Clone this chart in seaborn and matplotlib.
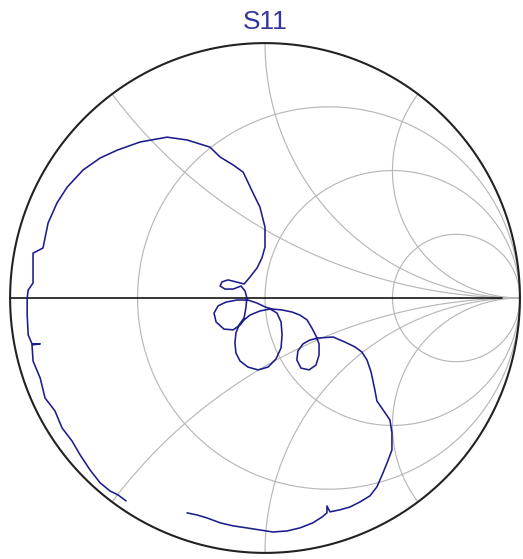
import numpy as np
import pandas as pd
import seaborn as sns
import matplotlib
matplotlib.use("Agg")
import matplotlib.pyplot as plt

sns.set_style("white")
plt.rcParams['font.family'] = ['Liberation Sans', 'DejaVu Sans']

s11_re = [-0.545, -0.576, -0.608, -0.647, -0.686, -0.725, -0.757, -0.796, -0.824, -0.863,
          -0.882, -0.910, -0.914, -0.882, -0.914, -0.929, -0.933, -0.933, -0.929, -0.910,
          -0.910, -0.871, -0.851, -0.816, -0.776, -0.714, -0.647, -0.580, -0.490, -0.384,
          -0.306, -0.216, -0.176, -0.125, -0.086, -0.071, -0.047, -0.020, 0.000, 0.000,
          -0.012, -0.031, -0.059, -0.082,
          -0.114, -0.145, -0.169, -0.176, -0.157, -0.125, -0.094, -0.078, -0.071,
          -0.075, -0.082,
          -0.102, -0.114, -0.118, -0.114, -0.098, -0.067, -0.027, 0.012, 0.043, 0.063,
          0.067, 0.063, 0.047, 0.020, -0.020, -0.059, -0.082,
          -0.098, -0.125, -0.161, -0.192, -0.200, -0.184, -0.153, -0.110, -0.067,
          -0.031, 0.000, 0.027, 0.067, 0.106, 0.137, 0.165, 0.184, 0.200,
          0.212, 0.212, 0.200, 0.173, 0.141, 0.125, 0.129, 0.149, 0.176, 0.208,
          0.267, 0.314, 0.353, 0.380, 0.400, 0.416, 0.431, 0.439, 0.463, 0.490,
          0.498, 0.498, 0.482, 0.463, 0.439, 0.412, 0.373, 0.333, 0.294, 0.255,
          0.243, 0.243, 0.224, 0.188, 0.137, 0.086, 0.031, -0.020, -0.071, -0.125,
          -0.176, -0.227, -0.267, -0.306]
s11_im = [-0.796, -0.773, -0.757, -0.725, -0.675, -0.616, -0.561, -0.510, -0.443, -0.392,
          -0.314, -0.247, -0.184, -0.180, -0.180, -0.145, -0.067, 0.000, 0.031, 0.059,
          0.176, 0.196, 0.294, 0.373, 0.435, 0.502, 0.549, 0.580, 0.612, 0.631,
          0.620, 0.592, 0.553, 0.522, 0.494, 0.463, 0.412, 0.357, 0.278, 0.200,
          0.157, 0.118, 0.082, 0.055,
          0.063, 0.071, 0.063, 0.047, 0.035, 0.035, 0.047, 0.027, 0.000,
          -0.039, -0.078,
          -0.106, -0.137, -0.176, -0.216, -0.247, -0.271, -0.282, -0.271, -0.239, -0.196,
          -0.145, -0.094, -0.059, -0.043, -0.051, -0.067, -0.086,
          -0.106, -0.125, -0.122, -0.094, -0.059, -0.031, -0.016, -0.008, -0.008,
          -0.020, -0.035, -0.043, -0.047, -0.055, -0.067, -0.086, -0.118, -0.149,
          -0.180, -0.224, -0.263, -0.282, -0.275, -0.243, -0.208, -0.180, -0.165, -0.157,
          -0.153, -0.173, -0.192, -0.212, -0.243, -0.290, -0.361, -0.404, -0.439, -0.478,
          -0.529, -0.596, -0.639, -0.686, -0.741, -0.776, -0.800, -0.820, -0.831, -0.839,
          -0.816, -0.843, -0.859, -0.882, -0.902, -0.914, -0.918, -0.910, -0.902, -0.894,
          -0.882, -0.863, -0.851, -0.843]

# grid values
r_values = [1/3, 1, 3]
x_values = [0.5, 1, 2]

df = pd.DataFrame({"re": s11_re, "im": s11_im})

fig = plt.figure(figsize=(5.23, 5.59), dpi=100)
ax = fig.add_axes([5/523, 1/559, 520/523, 520/559])
lim = 1.02
ax.set_xlim(-lim, lim)
ax.set_ylim(-lim, lim)

gcol = "#b8b8b8"
# constant resistance circles
xs = np.concatenate([-np.logspace(4, -3, 400), np.logspace(-3, 4, 400)])
for r in r_values:
    z = r + 1j * xs
    g = (z - 1) / (z + 1)
    ax.plot(g.real, g.imag, color=gcol, lw=0.85, zorder=1)
# constant reactance arcs
rs = np.concatenate([[0], np.logspace(-3, 4, 600)])
for x in x_values:
    for sgn in (1, -1):
        z = rs + 1j * sgn * x
        g = (z - 1) / (z + 1)
        ax.plot(g.real, g.imag, color=gcol, lw=0.85, zorder=1)

# real axis and outer circle
ax.plot([-1, 0.93], [0, 0], color="black", lw=1.1, zorder=2)
t = np.linspace(0, 2 * np.pi, 500)
ax.plot(np.cos(t), np.sin(t), color="#222222", lw=1.5, zorder=3)

sns.lineplot(data=df, x="re", y="im", sort=False, estimator=None, ax=ax,
             color="#1c1c8c", lw=1.15, zorder=4)
ax.set_xlabel("")
ax.set_ylabel("")
ax.axis("off")

fig.text(265/523, 1 - 22/559, "S11", ha="center", va="center",
         fontsize=19, color="#35359c")

fig.savefig("out.png", dpi=100)
